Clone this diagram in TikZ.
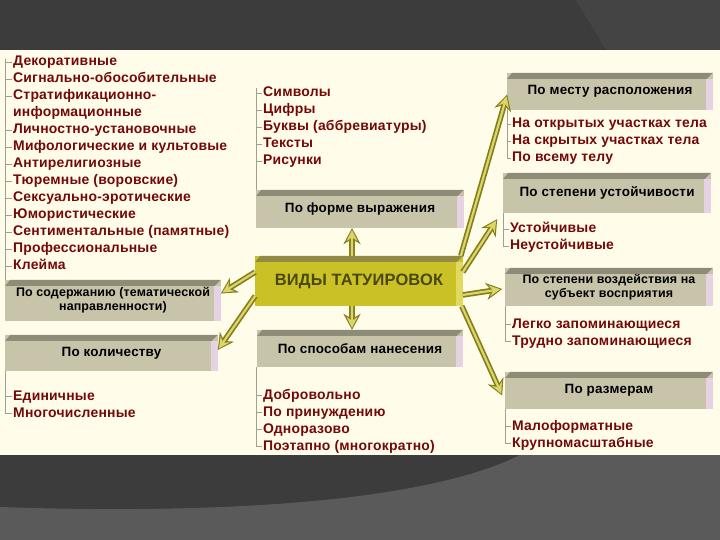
\documentclass[tikz,border=0pt]{standalone}
\usepackage{fontspec}
\setmainfont{Liberation Sans}
\usetikzlibrary{arrows.meta}
\definecolor{bgdark}{HTML}{3C3C3C}
\definecolor{bglight}{HTML}{5A5A5A}
\definecolor{bgwedge}{HTML}{444444}
\definecolor{panel}{HTML}{FFFDE9}
\definecolor{boxfill}{HTML}{C7C4AA}
\definecolor{boxtop}{HTML}{8E8B76}
\definecolor{boxside}{HTML}{E6D2E2}
\definecolor{cenfill}{HTML}{C9C125}
\definecolor{centop}{HTML}{8F8B45}
\definecolor{censide}{HTML}{E2DA60}
\definecolor{centext}{HTML}{4A4812}
\definecolor{itemred}{HTML}{730808}
\definecolor{brkgray}{HTML}{A09F92}
\definecolor{arrdark}{HTML}{847E1C}
\definecolor{arrlight}{HTML}{DCD56A}
\begin{document}
\begin{tikzpicture}[x=1bp,y=-1bp,
  item/.style={anchor=base west, text=itemred, inner xsep=1.5pt, inner ysep=0pt,
    text height=10pt, text depth=3pt,
    font=\bfseries\fontsize{14}{16}\selectfont\addfontfeatures{LetterSpace=1.5}},
  cat/.style={fill=boxfill, inner sep=0pt, align=center, text=black,
    font=\bfseries\fontsize{13.5}{15}\selectfont\addfontfeatures{LetterSpace=1.5}},
  cattwo/.style={cat, font=\bfseries\fontsize{12.5}{14}\selectfont\addfontfeatures{LetterSpace=1}},
  brk/.style={draw=brkgray, line width=0.9pt},
  arr/.style={draw=arrlight, line width=2.2pt, shorten >=2pt,
    -{Stealth[length=11pt,width=11pt,inset=4pt]},
    preaction={draw=arrdark, line width=5.6pt, shorten >=0pt,
      -{Stealth[length=16pt,width=17pt,inset=5pt]}}}]
\useasboundingbox (0,0) rectangle (720,540);
% background
\fill[bgdark] (0,0) rectangle (720,540);
\fill[bgwedge] (576,0) -- (720,0) -- (720,50) -- (606,50) -- cycle;
\fill[bglight] (0,507) .. controls (200,514) and (420,505) .. (520,455) -- (720,455) -- (720,540) -- (0,540) -- cycle;
\fill[panel] (0,50) rectangle (720,455);

% category boxes
\node[cat, minimum width=208, minimum height=38] (forma) at (360,209) {По форме выражения};
\node[cat, minimum width=206, minimum height=37] (sposob) at (360,348.5) {По способам нанесения};
\node[cattwo, minimum width=216, minimum height=41] (soderzh) at (113,300.5) {По содержанию (тематической\\направленности)};
\node[cat, minimum width=213, minimum height=36] (kolich) at (111.5,353) {По количеству};
\node[cat, minimum width=206, minimum height=37] (mesto) at (610,91.5) {По месту расположения};
\node[cat, minimum width=208, minimum height=40] (ustoich) at (607,193) {По степени устойчивости};
\node[cattwo, minimum width=208, minimum height=38] (vozd) at (609,287) {По степени воздействия на\\субъект восприятия};
\node[cat, minimum width=208, minimum height=37] (razmer) at (609,390.5) {По размерам};
\node[fill=cenfill, inner sep=0pt, minimum width=208, minimum height=50, text=centext,
  font=\bfseries\fontsize{16.5}{18}\selectfont\addfontfeatures{LetterSpace=1}] (cen) at (359,281) {ВИДЫ ТАТУИРОВОК};

% bevels
\foreach \n in {forma,sposob,soderzh,kolich,mesto,ustoich,vozd,razmer}{
  \fill[boxtop] ([shift={(0,6)}]\n.north west) -- ([shift={(5,0)}]\n.north west)
    -- (\n.north east) -- ([shift={(-6,6)}]\n.north east) -- cycle;
  \fill[boxside] ([shift={(-7,6)}]\n.north east) rectangle (\n.south east);
}
\fill[centop] ([shift={(0,6)}]cen.north west) -- ([shift={(5,0)}]cen.north west)
  -- (cen.north east) -- ([shift={(-6,6)}]cen.north east) -- cycle;
\fill[censide] ([shift={(-7,6)}]cen.north east) rectangle (cen.south east);

% left list
\foreach \t [count=\i] in {Декоративные,Сигнально-обособительные,Стратификационно-,информационные,
  Личностно-установочные,Мифологические и культовые,Антирелигиозные,Тюремные (воровские),
  Сексуально-эротические,Юмористические,Сентиментальные (памятные),Профессиональные,Клейма}{
  \node[item] (l\i) at (11.5,{66+17*(\i-1)}) {\t};
}
\coordinate (lt) at (5,59);
\draw[brk] (lt) -- (lt |- soderzh.north);
\foreach \i in {1,2,3,5,6,7,8,9,10,11,12,13}{ \draw[brk] (lt) |- (l\i.west); }

% forma list
\foreach \t [count=\i] in {Символы,Цифры,Буквы (аббревиатуры),Тексты,Рисунки}{
  \node[item] (f\i) at (261.5,{97+17*(\i-1)}) {\t};
}
\coordinate (ft) at (256,88);
\draw[brk] (ft) -- (ft |- forma.north);
\foreach \i in {1,...,5}{ \draw[brk] (ft) |- (f\i.west); }

% sposob list
\foreach \t [count=\i] in {Добровольно,По принуждению,Одноразово,Поэтапно (многократно)}{
  \node[item] (s\i) at (261.5,{399+17*(\i-1)}) {\t};
}
\foreach \i in {1,...,4}{ \draw[brk] ([xshift=-1pt]sposob.south west) |- (s\i.west); }

% kolich list
\node[item] (k1) at (11.5,400) {Единичные};
\node[item] (k2) at (11.5,417) {Многочисленные};
\foreach \i in {1,2}{ \draw[brk] (kolich.south west) |- (k\i.west); }

% mesto list
\foreach \t [count=\i] in {На открытых участках тела,На скрытых участках тела,По всему телу}{
  \node[item] (m\i) at (510.5,{128+17*(\i-1)}) {\t};
}
\foreach \i in {1,...,3}{ \draw[brk] (mesto.south west) |- (m\i.west); }

% ustoich list
\node[item] (u1) at (508.5,233) {Устойчивые};
\node[item] (u2) at (508.5,250) {Неустойчивые};
\foreach \i in {1,2}{ \draw[brk] (ustoich.south west) |- (u\i.west); }

% vozd list
\node[item] (v1) at (510.5,328) {Легко запоминающиеся};
\node[item] (v2) at (510.5,345) {Трудно запоминающиеся};
\foreach \i in {1,2}{ \draw[brk] (vozd.south west) |- (v\i.west); }

% razmer list
\node[item] (r1) at (510.5,430) {Малоформатные};
\node[item] (r2) at (510.5,447) {Крупномасштабные};
\foreach \i in {1,2}{ \draw[brk] (razmer.south west) |- (r\i.west); }

% arrows
\draw[arr] ([xshift=-7pt]cen.north) -- ([xshift=-8pt]forma.south);
\draw[arr] ([xshift=-7pt]cen.south) -- ([xshift=-8pt]sposob.north);
\draw[arr] ([yshift=9pt]cen.west) -- ([yshift=7pt]soderzh.east);
\draw[arr] ([yshift=-15pt]cen.west) -- ([yshift=3pt]kolich.east);
\draw[arr] ([xshift=-2pt]cen.north east) -- ([yshift=-3pt]mesto.west);
\draw[arr] ([yshift=9pt]cen.east) -- ([shift={(-6,6)}]ustoich.south west);
\draw[arr] ([yshift=-14pt]cen.east) -- ([shift={(-3,2)}]vozd.west);
\draw[arr] ([xshift=-1pt]cen.south east) -- ([shift={(-3,5)}]razmer.west);
\end{tikzpicture}
\end{document}
